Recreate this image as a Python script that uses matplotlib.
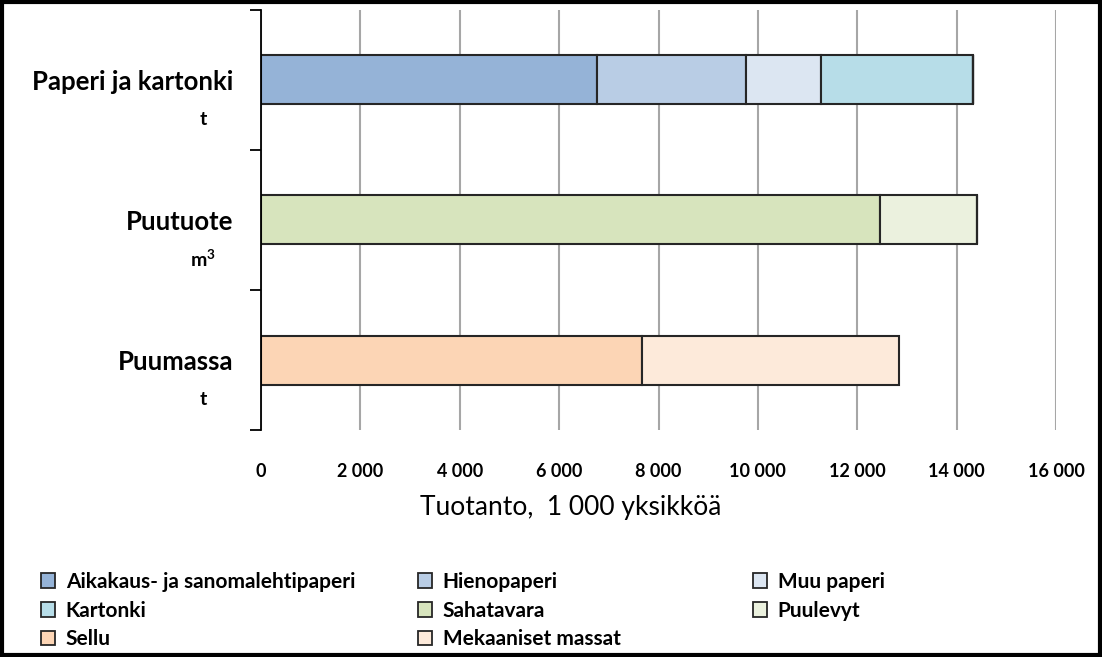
import matplotlib.pyplot as plt
from matplotlib.patches import Patch
from matplotlib.ticker import FuncFormatter
import matplotlib.transforms as mtransforms


# ====================== DATA ======================
categories = ["Paperi ja kartonki", "Puutuote", "Puumassa"]
units = ["t", r"m$^{\mathbf{3}}$", "t"]

series_names = [
    "Aikakaus- ja sanomalehtipaperi",
    "Hienopaperi",
    "Muu paperi",
    "Kartonki",
    "Sahatavara",
    "Puulevyt",
    "Sellu",
    "Mekaaniset massat",
]

# values per series for (Paperi ja kartonki, Puutuote, Puumassa), 1 000 units
aikakaus = [6760, 0, 0]
hienopaperi = [3000, 0, 0]
muu_paperi = [1510, 0, 0]
kartonki = [3060, 0, 0]
sahatavara = [0, 12460, 0]
puulevyt = [0, 1950, 0]
sellu = [0, 0, 7670]
mekaaniset = [0, 0, 5170]

series_values = [aikakaus, hienopaperi, muu_paperi, kartonki,
                 sahatavara, puulevyt, sellu, mekaaniset]

colors = ["#95B3D7", "#B9CDE5", "#DCE6F2", "#B7DDE8",
          "#D7E4BD", "#EBF1DE", "#FCD5B5", "#FDEADA"]

x_ticks = [0, 2000, 4000, 6000, 8000, 10000, 12000, 14000, 16000]


# ====================== PLOT ======================
plt.rcParams['font.family'] = ['Lato', 'DejaVu Sans']
plt.rcParams['mathtext.fontset'] = 'custom'
plt.rcParams['mathtext.rm'] = 'Lato'
plt.rcParams['mathtext.bf'] = 'Lato:bold'

fig = plt.figure(figsize=(11.02, 6.57), dpi=100)
ax = fig.add_axes([0.2368, 0.3455, 0.7215, 0.6393])

ypos = list(range(len(categories)))
left = [0] * len(categories)
for vals, color in zip(series_values, colors):
    ax.barh(ypos, vals, left=left, height=0.35, color=color,
            edgecolor="#262626", linewidth=1.5, zorder=3)
    left = [l + v for l, v in zip(left, vals)]

ax.set_xlim(0, 16000)
ax.set_ylim(2.5, -0.5)

# Axis styling
for side in ["top", "right", "bottom"]:
    ax.spines[side].set_visible(False)
ax.spines["left"].set_color("black")
ax.spines["left"].set_linewidth(1.3)
ax.spines["left"].set_zorder(4)

ax.set_xticks(x_ticks)
ax.xaxis.set_major_formatter(FuncFormatter(lambda v, p: f"{int(v):,}".replace(",", " ")))
ax.tick_params(axis="x", length=0, pad=24, labelsize=13)
for lbl in ax.get_xticklabels():
    lbl.set_fontweight("bold")
ax.grid(axis="x", color="#A6A6A6", linewidth=1.5, zorder=0)

ax.set_yticks(ypos)
ax.set_yticklabels(categories, fontsize=18.5, fontweight="bold")
ax.tick_params(axis="y", which="major", length=0, pad=20)
ax.set_yticks([-0.5, 0.5, 1.5, 2.5], minor=True)
ax.tick_params(axis="y", which="minor", length=8, width=1.3, direction="out")

# second line of each category label (unit)
trans = mtransforms.blended_transform_factory(ax.transAxes, ax.transData)
for y, unit in zip(ypos, units):
    ax.text(-0.073, y + 0.28, unit, transform=trans, ha="center", va="center",
            fontsize=14, fontweight="bold")

# axis title, Excel places it a bit left of the plot centre
fig.text(0.518, 0.228, "Tuotanto,  1 000 yksikköä", ha="center", va="center", fontsize=19)

# ====================== LEGEND ======================
handles = [Patch(facecolor=c, edgecolor="#262626", linewidth=1.3) for c in colors]
col_x = [0.02, 0.362, 0.666]
columns = [[0, 3, 6], [1, 4, 7], [2, 5]]
for cx, idx in zip(col_x, columns):
    leg = fig.legend([handles[i] for i in idx], [series_names[i] for i in idx],
                     loc="upper left", bbox_to_anchor=(cx, 0.158),
                     frameon=False, handlelength=0.7, handleheight=0.7,
                     handletextpad=0.5, labelspacing=0.42,
                     prop={"weight": "bold", "size": 15})

# outer frame
fig.patches.append(plt.Rectangle((0.0015, 0.0025), 0.997, 0.995, transform=fig.transFigure,
                                 fill=False, edgecolor="black", linewidth=3))

plt.savefig("out.png", dpi=100)
